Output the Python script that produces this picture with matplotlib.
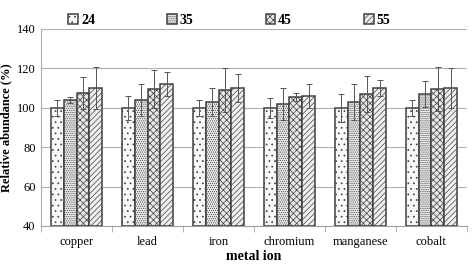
import numpy as np
import matplotlib
matplotlib.use("Agg")
import matplotlib.pyplot as plt

plt.rcParams['font.family'] = ['Liberation Serif', 'DejaVu Serif']
plt.rcParams['hatch.linewidth'] = 0.5
plt.rcParams['hatch.color'] = '#6a6a6a'

metals = ["copper", "lead", "iron", "chromium", "manganese", "cobalt"]
series = ["24", "35", "45", "55"]
values = {
    "24": [100, 100, 100, 100, 100, 100],
    "35": [104, 104, 103, 102, 103, 107],
    "45": [107.5, 109.5, 109, 105.5, 107, 109.5],
    "55": [110, 112, 110, 106, 110, 110],
}
errors = {
    "24": [4, 6, 4, 5, 7, 4],
    "35": [1.5, 8, 7, 8, 9, 6.5],
    "45": [8, 9.5, 11, 2, 9, 11],
    "55": [10.5, 6, 7, 6, 4, 10],
}
hatches = ["...", "........", "xxxxx", "//////"]
fills = ['#f8f8f8', '#ececec', '#e8e8e8', '#f0f0f0']

fig = plt.figure(figsize=(4.73, 2.68), dpi=100)
ax = fig.add_axes([0.087, 0.157, 0.90, 0.735])

x = np.arange(len(metals))
w = 0.18
for i, s in enumerate(series):
    ax.bar(x + (i - 1.5) * w, np.array(values[s]) - 40, w, bottom=40,
           color=fills[i], edgecolor='#404040', linewidth=1.1,
           hatch=hatches[i], label=s, zorder=3)
    ax.errorbar(x + (i - 1.5) * w, values[s], yerr=errors[s], fmt='none',
                ecolor='#555555', elinewidth=0.7, capsize=2.5, capthick=0.7,
                zorder=4)

ax.set_ylim(40, 140)
ax.set_yticks(np.arange(40, 141, 20))
ax.set_xlim(-0.5, len(metals) - 0.5)
ax.set_xticks(x)
ax.set_xticklabels(metals, fontsize=9)
ax.set_xticks(np.arange(-0.5, len(metals), 1), minor=True)
ax.tick_params(axis='x', which='major', length=0, pad=7)
ax.tick_params(axis='x', which='minor', length=4, color='#aaaaaa')
ax.tick_params(axis='y', length=0, labelsize=9, pad=4)
ax.yaxis.grid(True, color='#b0b0b0', linewidth=0.8, zorder=0)
for side in ['top', 'right']:
    ax.spines[side].set_visible(False)
ax.spines['left'].set_color('#b0b0b0')
ax.spines['bottom'].set_color('#a0a0a0')

ax.set_ylabel("Relative abundance (%)", fontsize=9, fontweight='bold', labelpad=3)
ax.yaxis.set_label_coords(-0.068, 0.5)
ax.set_xlabel("metal ion", fontsize=10, fontweight='bold', labelpad=2)

leg = fig.legend(loc='upper center', bbox_to_anchor=(0.485, 0.995), ncol=4,
                 frameon=False, handlelength=0.7, handleheight=0.7,
                 handletextpad=0.2, columnspacing=5.2,
                 prop={'weight': 'bold', 'size': 10})

fig.savefig("out.png", dpi=100)
